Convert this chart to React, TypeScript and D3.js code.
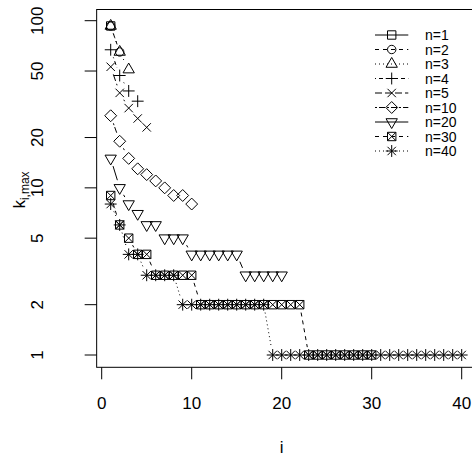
import React, { useEffect, useRef } from "react";
import * as d3 from "d3";

// k_{i,max} for each n, indexed by i = 1, 2, ...
const kN1 = [93];
const kN2 = [93, 65];
const kN3 = [93, 65, 51];
const kN4 = [67, 47, 38, 33];
const kN5 = [53, 37, 30, 26, 23];
const kN10 = [27, 19, 15, 13, 12, 11, 10, 9, 9, 8];
const kN20 = [15, 10, 8, 7, 6, 6, 5, 5, 5, 4, 4, 4, 4, 4, 4, 3, 3, 3, 3, 3];
const kN30 = [9, 6, 5, 4, 4, 3, 3, 3, 3, 3, 2, 2, 2, 2, 2, 2, 2, 2, 2, 2, 2, 2, 1, 1, 1, 1, 1, 1, 1, 1];
const kN40 = [8, 6, 4, 4, 3, 3, 3, 3, 2, 2, 2, 2, 2, 2, 2, 2, 2, 2, 1, 1, 1, 1, 1, 1, 1, 1, 1, 1, 1, 1, 1, 1, 1, 1, 1, 1, 1, 1, 1, 1];

const seriesNames = ["n=1", "n=2", "n=3", "n=4", "n=5", "n=10", "n=20", "n=30", "n=40"];
const seriesValues = [kN1, kN2, kN3, kN4, kN5, kN10, kN20, kN30, kN40];
const xTicks = [0, 10, 20, 30, 40];
const yTicks = [1, 2, 5, 10, 20, 50, 100];

// R lty 1..6 then recycled
const dashes = ["none", "4,4", "1,3", "1,3,4,3", "7,3", "2,2,6,2", "none", "4,4", "1,3"];

const R0 = 4.2;

function symbolPath(pch: number): string {
  const p = d3.path();
  if (pch === 0 || pch === 7) {
    p.rect(-R0, -R0, 2 * R0, 2 * R0);
    if (pch === 7) {
      p.moveTo(-R0, -R0); p.lineTo(R0, R0);
      p.moveTo(-R0, R0); p.lineTo(R0, -R0);
    }
  } else if (pch === 1) {
    p.moveTo(R0, 0);
    p.arc(0, 0, R0, 0, 2 * Math.PI);
  } else if (pch === 2 || pch === 6) {
    const s = pch === 2 ? 1 : -1;
    const r = 1.5551 * R0, xc = 1.3468 * R0, yc = 0.7776 * R0;
    p.moveTo(0, -s * r);
    p.lineTo(xc, s * yc);
    p.lineTo(-xc, s * yc);
    p.closePath();
  } else if (pch === 3) {
    const c = Math.SQRT2 * R0;
    p.moveTo(-c, 0); p.lineTo(c, 0);
    p.moveTo(0, -c); p.lineTo(0, c);
  } else if (pch === 4) {
    p.moveTo(-R0, -R0); p.lineTo(R0, R0);
    p.moveTo(-R0, R0); p.lineTo(R0, -R0);
  } else if (pch === 5) {
    const c = Math.SQRT2 * R0;
    p.moveTo(-c, 0); p.lineTo(0, -c); p.lineTo(c, 0); p.lineTo(0, c);
    p.closePath();
  } else if (pch === 8) {
    const c = Math.SQRT2 * R0;
    p.moveTo(-R0, -R0); p.lineTo(R0, R0);
    p.moveTo(-R0, R0); p.lineTo(R0, -R0);
    p.moveTo(-c, 0); p.lineTo(c, 0);
    p.moveTo(0, -c); p.lineTo(0, c);
  }
  return p.toString();
}

const App = () => {
  const ref = useRef<SVGSVGElement>(null);

  useEffect(() => {
    const width = 472;
    const height = 456;
    const font = "'Liberation Sans', Arial, Helvetica, sans-serif";
    const svg = d3.select(ref.current);
    svg.selectAll("*").remove();
    svg.attr("width", width).attr("height", height);

    const x = d3.scaleLinear().domain([0, 40]).range([101.7, 461.7]);
    const y = d3.scaleLog().domain([1, 100]).range([355, 20.7]);
    const box = { left: x(-0.56), right: x(41.56), top: 9.5, bottom: 367.3 };

    svg.append("rect").attr("width", width).attr("height", height).attr("fill", "white");

    const plot = svg.append("g");
    const gap = 8;

    seriesValues.forEach((vals, s) => {
      const pts = vals.map((v, i) => [x(i + 1), y(v)]);
      const g = plot.append("g");
      // type = "b": segments with gaps around the points
      for (let i = 1; i < pts.length; i++) {
        const [x0, y0] = pts[i - 1];
        const [x1, y1] = pts[i];
        const dx = x1 - x0, dy = y1 - y0;
        const f = Math.hypot(dx, dy);
        if (f <= 2 * gap) continue;
        g.append("line")
          .attr("x1", x0 + (gap * dx) / f).attr("y1", y0 + (gap * dy) / f)
          .attr("x2", x1 - (gap * dx) / f).attr("y2", y1 - (gap * dy) / f)
          .attr("stroke", "black").attr("stroke-width", 1)
          .attr("stroke-dasharray", dashes[s]);
      }
      g.selectAll("path.pt")
        .data(pts)
        .enter()
        .append("path")
        .attr("class", "pt")
        .attr("d", symbolPath(s))
        .attr("transform", (d) => "translate(" + d[0] + "," + d[1] + ")")
        .attr("fill", "none")
        .attr("stroke", "black")
        .attr("stroke-width", 1);
    });

    // frame
    svg.append("rect")
      .attr("x", box.left).attr("y", box.top)
      .attr("width", box.right - box.left).attr("height", box.bottom - box.top)
      .attr("fill", "none").attr("stroke", "black").attr("stroke-width", 1);

    // x axis
    const xa = svg.append("g");
    xa.selectAll("line").data(xTicks).enter().append("line")
      .attr("x1", (d) => x(d)).attr("x2", (d) => x(d))
      .attr("y1", box.bottom).attr("y2", box.bottom + 12)
      .attr("stroke", "black");
    xa.selectAll("text").data(xTicks).enter().append("text")
      .attr("x", (d) => x(d)).attr("y", 409)
      .attr("text-anchor", "middle")
      .style("font-family", font).style("font-size", "17px")
      .text((d) => d);

    // y axis
    const ya = svg.append("g");
    ya.selectAll("line").data(yTicks).enter().append("line")
      .attr("x1", box.left - 12).attr("x2", box.left)
      .attr("y1", (d) => y(d)).attr("y2", (d) => y(d))
      .attr("stroke", "black");
    ya.selectAll("text").data(yTicks).enter().append("text")
      .attr("transform", (d) => "translate(43," + y(d) + ") rotate(-90)")
      .attr("text-anchor", "middle")
      .style("font-family", font).style("font-size", "17px")
      .text((d) => d);

    // axis titles
    svg.append("text")
      .attr("x", x(20)).attr("y", 453)
      .attr("text-anchor", "middle")
      .style("font-family", font).style("font-size", "17px")
      .text("i");
    const yl = svg.append("text")
      .attr("transform", "translate(25,190) rotate(-90)")
      .attr("text-anchor", "middle")
      .style("font-family", font).style("font-size", "17px");
    yl.append("tspan").text("k");
    yl.append("tspan").attr("dy", 4).style("font-size", "12px").text("i,max");

    // legend
    const lg = svg.append("g");
    seriesNames.forEach((name, s) => {
      const ly = 35 + s * 14.5;
      lg.append("line")
        .attr("x1", 375).attr("x2", 408.3).attr("y1", ly).attr("y2", ly)
        .attr("stroke", "black").attr("stroke-dasharray", dashes[s]);
      lg.append("path")
        .attr("d", symbolPath(s))
        .attr("transform", "translate(391.7," + ly + ")")
        .attr("fill", "none").attr("stroke", "black");
      lg.append("text")
        .attr("x", 425).attr("y", ly + 5)
        .style("font-family", font).style("font-size", "14px")
        .text(name);
    });
  }, []);

  return (
    <svg ref={ref} style={{ position: "absolute", left: 0, top: 0, display: "block" }} />
  );
};

export default App;
